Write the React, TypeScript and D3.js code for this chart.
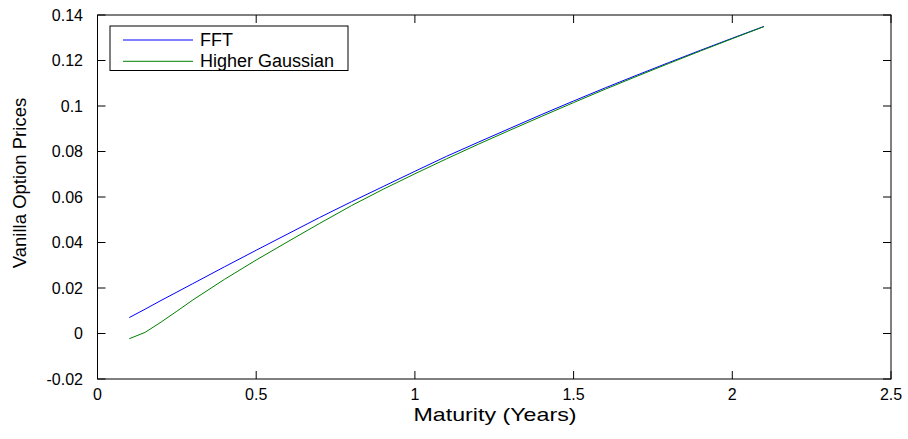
import React from "react";
import * as d3 from "d3";

const maturities = [0.1, 0.15, 0.2, 0.25, 0.3, 0.4, 0.5, 0.6, 0.7, 0.8, 0.9, 1.0, 1.1, 1.2, 1.3, 1.4, 1.5, 1.6, 1.7, 1.8, 1.9, 2.0, 2.1];
const fftPrices = [0.0070, 0.0107, 0.0145, 0.0182, 0.0219, 0.0293, 0.0366, 0.0438, 0.0510, 0.0579, 0.0646, 0.0713, 0.0779, 0.0841, 0.0902, 0.0963, 0.1022, 0.1080, 0.1136, 0.1191, 0.1245, 0.1298, 0.1350];
const higherGaussianPrices = [-0.0023, 0.0005, 0.0050, 0.0098, 0.0147, 0.0238, 0.0323, 0.0404, 0.0484, 0.0562, 0.0634, 0.0702, 0.0768, 0.0832, 0.0894, 0.0955, 0.1015, 0.1074, 0.1131, 0.1187, 0.1242, 0.1296, 0.1349];
const xTicks = [0, 0.5, 1, 1.5, 2, 2.5];
const yTicks = [-0.02, 0, 0.02, 0.04, 0.06, 0.08, 0.1, 0.12, 0.14];
const seriesNames = ["FFT", "Higher Gaussian"];
const seriesColors = ["#0000ff", "#008000"];

export default function App() {
  const W = 908, H = 439;
  const left = 97.5, right = 891, top = 15, bottom = 379;
  const x = d3.scaleLinear().domain([0, 2.5]).range([left, right]);
  const y = d3.scaleLinear().domain([-0.02, 0.14]).range([bottom, top]);
  const line = d3.line<[number, number]>().x(d => x(d[0])).y(d => y(d[1]));
  const series = [fftPrices, higherGaussianPrices];
  const font = "'Liberation Sans', Arial, sans-serif";
  const tl = 8;
  const fmt = (v: number) => String(Math.round(v * 100) / 100);
  return (
    <svg width={W} height={H} style={{ position: "absolute", left: 0, top: 0, background: "#fff" }} fontFamily={font}>
      <rect x={0} y={0} width={W} height={H} fill="#fff" />
      {series.map((s, i) => (
        <path key={i} d={line(maturities.map((m, j) => [m, s[j]] as [number, number])) || ""} fill="none" stroke={seriesColors[i]} strokeWidth={1} />
      ))}
      <rect x={left} y={top} width={right - left} height={bottom - top} fill="none" stroke="#000" strokeWidth={1} />
      {xTicks.map(t => (
        <g key={"x" + t}>
          <line x1={x(t)} x2={x(t)} y1={bottom} y2={bottom - tl} stroke="#000" />
          <line x1={x(t)} x2={x(t)} y1={top} y2={top + tl} stroke="#000" />
          <text x={x(t)} y={400} fontSize={16} textAnchor="middle">{fmt(t)}</text>
        </g>
      ))}
      {yTicks.map(t => (
        <g key={"y" + t}>
          <line x1={left} x2={left + tl} y1={y(t)} y2={y(t)} stroke="#000" />
          <line x1={right} x2={right - tl} y1={y(t)} y2={y(t)} stroke="#000" />
          <text x={83} y={y(t) + 5.5} fontSize={16} textAnchor="end">{fmt(t)}</text>
        </g>
      ))}
      <text x={495} y={421} fontSize={19} textAnchor="middle" textLength={163} lengthAdjust="spacingAndGlyphs">Maturity (Years)</text>
      <text transform={`translate(25.5,183) rotate(-90)`} fontSize={18.5} textAnchor="middle">Vanilla Option Prices</text>
      <rect x={110} y={26} width={238} height={44.5} fill="#fff" stroke="#000" strokeWidth={1} />
      {seriesNames.map((n, i) => (
        <g key={n}>
          <line x1={123} x2={193} y1={40 + i * 21.3} y2={40 + i * 21.3} stroke={seriesColors[i]} />
          <text x={200} y={46 + i * 21.3} fontSize={18}>{n}</text>
        </g>
      ))}
    </svg>
  );
}
